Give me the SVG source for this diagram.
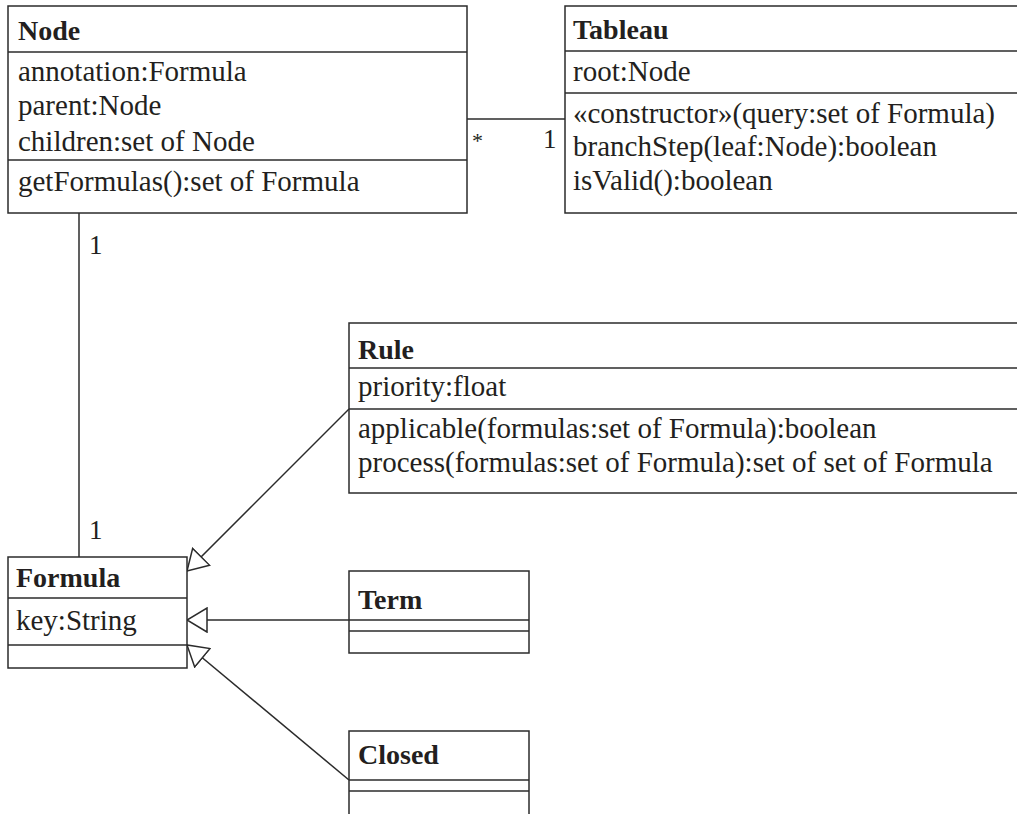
<svg xmlns="http://www.w3.org/2000/svg" width="1017" height="814" viewBox="0 0 1017 814">
  <style>
    .box { fill: #ffffff; stroke: #2b2b2b; stroke-width: 1.5; }
    .sep { stroke: #2b2b2b; stroke-width: 1.5; fill: none; }
    .t { font-family: "Liberation Serif", "Times New Roman", serif; font-size: 29px; fill: #231f20; }
    .h { font-family: "Liberation Serif", "Times New Roman", serif; font-size: 28px; font-weight: bold; fill: #231f20; }
    .edge { stroke: #2b2b2b; stroke-width: 1.5; fill: none; }
    .mult { font-family: "Liberation Serif", "Times New Roman", serif; font-size: 27px; fill: #231f20; }
  </style>
  <defs>
    <marker id="gen" viewBox="0 0 22 26" refX="21" refY="13" markerWidth="22" markerHeight="26" markerUnits="userSpaceOnUse" orient="auto">
      <path d="M1,1 L21,13 L1,25 Z" fill="#ffffff" stroke="#2b2b2b" stroke-width="1.5"/>
    </marker>
  </defs>
  <rect width="1017" height="814" fill="#ffffff"/>

  <g id="connectors">
    <!-- Node * — 1 Tableau -->
    <line class="edge" x1="467" y1="119" x2="565" y2="119"/>
    <text class="mult" x="472" y="148" style="font-size:22px">*</text>
    <text class="mult" x="543" y="148">1</text>
    <!-- Node 1 — 1 Formula -->
    <line class="edge" x1="79" y1="213" x2="79" y2="557"/>
    <text class="mult" x="89" y="254">1</text>
    <text class="mult" x="89" y="539">1</text>
    <!-- generalizations -->
    <line class="edge" x1="349" y1="409" x2="187" y2="571" marker-end="url(#gen)"/>
    <line class="edge" x1="349" y1="620" x2="187" y2="620" marker-end="url(#gen)"/>
    <line class="edge" x1="349" y1="780" x2="187" y2="645" marker-end="url(#gen)"/>
  </g>

  <g id="node-Node">
    <rect class="box" x="8" y="6" width="459" height="207"/>
    <line class="sep" x1="8" y1="52" x2="467" y2="52"/>
    <line class="sep" x1="8" y1="160" x2="467" y2="160"/>
    <text class="h" x="18" y="40">Node</text>
    <text class="t" x="18" y="81">annotation:Formula</text>
    <text class="t" x="18" y="115">parent:Node</text>
    <text class="t" x="18" y="151">children:set of Node</text>
    <text class="t" x="18" y="191">getFormulas():set of Formula</text>
  </g>

  <g id="node-Tableau">
    <rect class="box" x="565" y="6" width="460" height="207"/>
    <line class="sep" x1="565" y1="51" x2="1025" y2="51"/>
    <line class="sep" x1="565" y1="93" x2="1025" y2="93"/>
    <text class="h" x="573" y="39">Tableau</text>
    <text class="t" x="573" y="81">root:Node</text>
    <text class="t" x="573" y="123">«constructor»(query:set of Formula)</text>
    <text class="t" x="573" y="156">branchStep(leaf:Node):boolean</text>
    <text class="t" x="573" y="190">isValid():boolean</text>
  </g>

  <g id="node-Rule">
    <rect class="box" x="349" y="323" width="676" height="170"/>
    <line class="sep" x1="349" y1="368" x2="1025" y2="368"/>
    <line class="sep" x1="349" y1="409" x2="1025" y2="409"/>
    <text class="h" x="358" y="359">Rule</text>
    <text class="t" x="358" y="396">priority:float</text>
    <text class="t" x="358" y="438">applicable(formulas:set of Formula):boolean</text>
    <text class="t" x="358" y="472">process(formulas:set of Formula):set of set of Formula</text>
  </g>

  <g id="node-Formula">
    <rect class="box" x="8" y="557" width="179" height="111"/>
    <line class="sep" x1="8" y1="598" x2="187" y2="598"/>
    <line class="sep" x1="8" y1="645" x2="187" y2="645"/>
    <text class="h" x="16" y="587">Formula</text>
    <text class="t" x="16" y="630">key:String</text>
  </g>

  <g id="node-Term">
    <rect class="box" x="349" y="571" width="180" height="82"/>
    <line class="sep" x1="349" y1="620" x2="529" y2="620"/>
    <line class="sep" x1="349" y1="631" x2="529" y2="631"/>
    <text class="h" x="358" y="609">Term</text>
  </g>

  <g id="node-Closed">
    <rect class="box" x="349" y="731" width="180" height="90"/>
    <line class="sep" x1="349" y1="780" x2="529" y2="780"/>
    <line class="sep" x1="349" y1="791" x2="529" y2="791"/>
    <text class="h" x="358" y="764">Closed</text>
  </g>
</svg>
